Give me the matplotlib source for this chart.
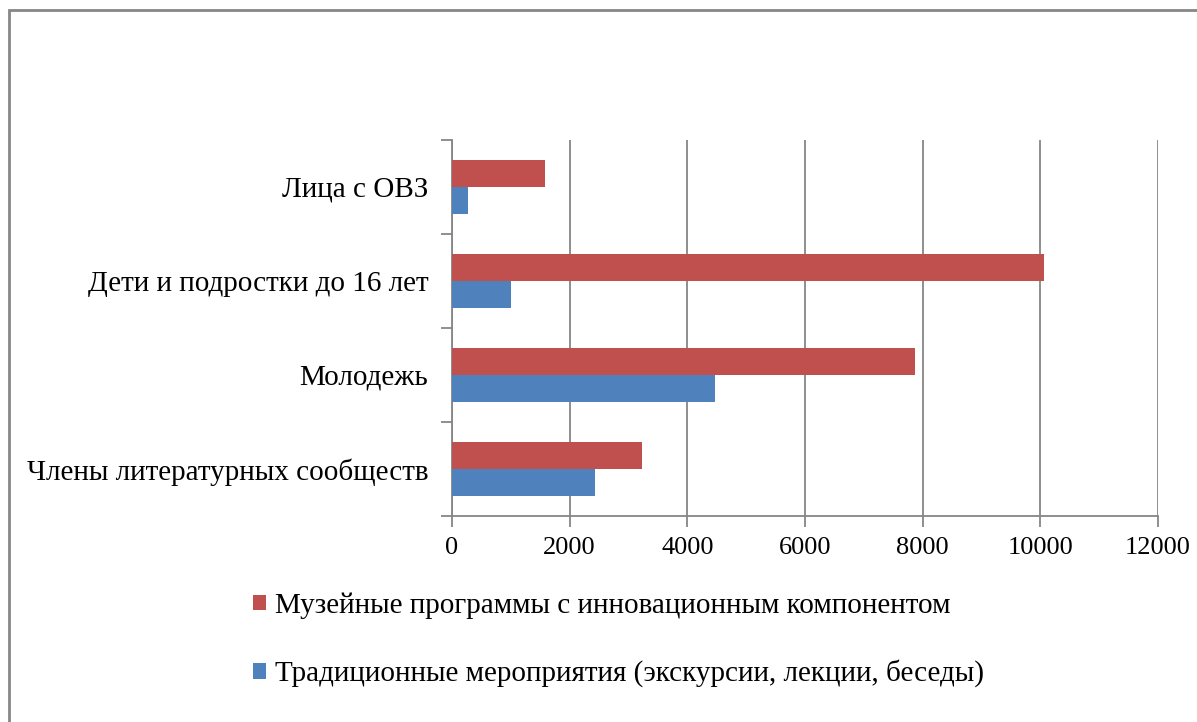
import matplotlib.pyplot as plt
import numpy as np
from matplotlib.patches import Rectangle

categories = ["Члены литературных сообществ", "Молодежь",
              "Дети и подростки до 16 лет", "Лица с ОВЗ"]
innovative = [3230, 7870, 10070, 1580]
traditional = [2430, 4470, 1000, 280]
series_names = ["Музейные программы с инновационным компонентом",
                "Традиционные мероприятия (экскурсии, лекции, беседы)"]
xticks = [0, 2000, 4000, 6000, 8000, 10000, 12000]

plt.rcParams['font.family'] = ['Liberation Serif', 'DejaVu Serif']

red = "#C0504D"
blue = "#4F81BD"
grid_col = "#868686"

fig = plt.figure(figsize=(11.97, 7.22), dpi=100)
ax = fig.add_axes([452 / 1197, 1 - 516 / 722, 706 / 1197, 376 / 722])

y = np.arange(len(categories))
h = 0.284
b1 = ax.barh(y + h / 2, innovative, height=h, color=red, label=series_names[0], zorder=3)
b2 = ax.barh(y - h / 2, traditional, height=h, color=blue, label=series_names[1], zorder=3)

ax.set_xlim(0, 12000)
ax.set_ylim(-0.5, len(categories) - 0.5)
ax.set_xticks(xticks)
ax.set_xticklabels([str(t) for t in xticks], fontsize=19)
ax.grid(axis='x', color=grid_col, linewidth=1.3, zorder=0)

ax.set_yticks(np.arange(-0.5, len(categories), 1.0))
ax.set_yticklabels([])
ax.set_yticks(y, minor=True)
ax.set_yticklabels(categories, minor=True, fontsize=21)
ax.tick_params(axis='y', which='minor', length=0, pad=17)
ax.tick_params(axis='y', which='major', length=8, color=grid_col, width=1.3)
ax.tick_params(axis='x', length=8, color=grid_col, width=1.3, pad=7)

for s in ['top', 'right']:
    ax.spines[s].set_visible(False)
for s in ['left', 'bottom']:
    ax.spines[s].set_color(grid_col)
    ax.spines[s].set_linewidth(1.3)

leg = fig.legend(handles=[b1, b2], loc='upper left',
                 bbox_to_anchor=(227 / 1197, 1 - 566 / 722),
                 frameon=False, fontsize=21, handlelength=0.45, handleheight=0.45,
                 handletextpad=0.3, labelspacing=1.4)

fig.patches.append(Rectangle((9 / 1197, -0.1), 1.2, 1 - 10 / 722 + 0.1,
                             transform=fig.transFigure, fill=False,
                             edgecolor=grid_col, linewidth=2))

fig.savefig("out.png", dpi=100)
